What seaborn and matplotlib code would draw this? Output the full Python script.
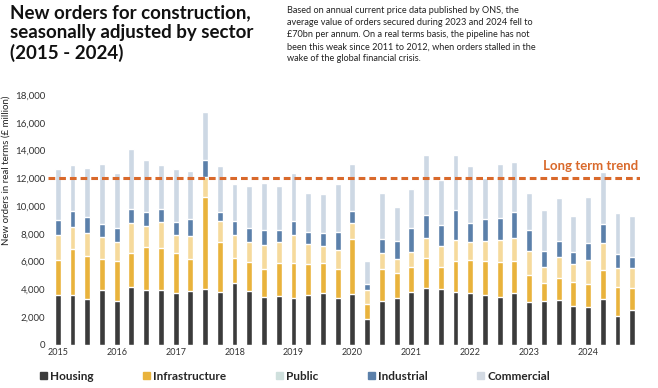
import numpy as np
import pandas as pd
import matplotlib
matplotlib.use("Agg")
import matplotlib.pyplot as plt
from matplotlib.patches import Patch
import seaborn as sns

# quarterly new orders, £ million
years = list(range(2015, 2025))
quarters = [f"{y} Q{q}" for y in years for q in range(1, 5)]

housing = [3600, 3600, 3310, 3980, 3140, 4180, 3960, 3960, 3770, 3860,
           4030, 3840, 4440, 3890, 3430, 3550, 3360, 3600, 3770, 3380,
           3650, 1900, 3190, 3360, 3820, 4100, 4030, 3840, 3740, 3620,
           3460, 3770, 3070, 3140, 3260, 2830, 2710, 3310, 2090, 2540]
infrastructure = [2520, 3310, 3120, 2210, 2910, 2470, 3120, 3050, 2880, 2330,
                  6650, 3580, 1850, 2090, 2040, 2350, 2570, 2230, 2160, 2090,
                  4010, 1080, 2280, 1800, 1770, 2190, 1610, 2210, 2380, 2430,
                  2540, 2250, 1970, 1350, 1560, 1730, 1680, 2110, 2090, 1560]
public = [1800, 1560, 1660, 1560, 1390, 2160, 1510, 1850, 1290, 1680,
          1440, 1510, 1610, 1410, 1710, 1520, 1990, 1470, 1200, 1350,
          1100, 960, 1180, 1030, 1110, 1410, 1510, 1530, 1320, 1460,
          1540, 1710, 1700, 1150, 1490, 1250, 1730, 1900, 1360, 1420]
industrial = [1080, 1200, 1130, 990, 980, 980, 990, 930, 920, 1200,
              1200, 670, 1030, 1060, 1080, 880, 980, 860, 910, 1340,
              910, 450, 1010, 1300, 1750, 1680, 1490, 2160, 1370, 1540,
              1630, 1820, 1520, 1150, 1180, 890, 1200, 1390, 1040, 790]
commercial = [3650, 3290, 3520, 4320, 3990, 4320, 3740, 3170, 3790, 3480,
              3430, 3310, 2640, 3020, 3400, 3170, 3480, 2780, 2860, 3410,
              3340, 1660, 3280, 2470, 2760, 4280, 3260, 3920, 4100, 2950,
              3890, 3650, 2660, 2930, 3070, 2590, 3310, 3770, 2920, 2980]

trend = 12000

sectors = ["Housing", "Infrastructure", "Public", "Industrial", "Commercial"]
bar_colors = ["#3b3b3b", "#e9b33c", "#f6da9c", "#5b80aa", "#cdd8e4"]
legend_colors = ["#3b3b3b", "#e9b33c", "#cfe0dd", "#5b80aa", "#d3dae3"]

df = pd.DataFrame({"quarter": quarters, "Housing": housing,
                   "Infrastructure": infrastructure, "Public": public,
                   "Industrial": industrial, "Commercial": commercial})
cum = df[sectors].cumsum(axis=1)

sns.set_style("white")
plt.rcParams["font.family"] = ["Lato", "DejaVu Sans"]

fig = plt.figure(figsize=(6.58, 3.88), dpi=100)
ax = fig.add_axes([0.073, 0.111, 0.9, 0.644])

# draw cumulative totals from the top layer down so each stack overlays
for name, col in zip(sectors[::-1], bar_colors[::-1]):
    sns.barplot(x=df["quarter"], y=cum[name], color=col, width=0.4,
                saturation=1, ax=ax, order=quarters)

ax.axhline(trend, color="#d9692b", lw=2.2, ls=(0, (2.2, 1.3)), zorder=5)
ax.text(39.4, trend + 450, "Long term trend", color="#d9692b",
        fontsize=9.5, fontweight="bold", ha="right", va="bottom")

ax.set_xlim(-0.66, 39.54)
ax.set_ylim(0, 18000)
ax.set_xticks(range(0, 40, 4))
ax.set_xticklabels([str(y) for y in years], fontsize=6.5, color="#333333")
ax.set_yticks(range(0, 18001, 2000))
ax.set_yticklabels([f"{v:,}" for v in range(0, 18001, 2000)],
                   fontsize=7, color="#333333")
ax.tick_params(length=0, pad=2)
ax.set_xlabel("")
ax.set_ylabel("New orders in real terms (£ million)", fontsize=7,
              color="#222222")
ax.yaxis.set_label_coords(-0.064, 0.7)
sns.despine(ax=ax, left=True, bottom=True)

fig.text(0.015, 0.99, "New orders for construction,\nseasonally adjusted by sector\n(2015 - 2024)",
         fontsize=13.5, fontweight="bold", va="top", ha="left",
         linespacing=1.22, color="#111111")
fig.text(0.436, 0.985,
         "Based on annual current price data published by ONS, the\n"
         "average value of orders secured during 2023 and 2024 fell to\n"
         "£70bn per annum. On a real terms basis, the pipeline has not\n"
         "been this weak since 2011 to 2012, when orders stalled in the\n"
         "wake of the global financial crisis.",
         fontsize=6.6, va="top", ha="left", linespacing=1.45,
         color="#222222")

handles = [Patch(color=c, label=s) for s, c in zip(sectors, legend_colors)]
leg = fig.legend(handles=handles, loc="center left",
                 bbox_to_anchor=(0.045, 0.03), ncol=5, frameon=False,
                 handlelength=0.6, handleheight=0.6, handletextpad=0.25,
                 columnspacing=4.2, prop={"size": 8.5, "weight": "bold"})

fig.savefig("out.png", dpi=100)
